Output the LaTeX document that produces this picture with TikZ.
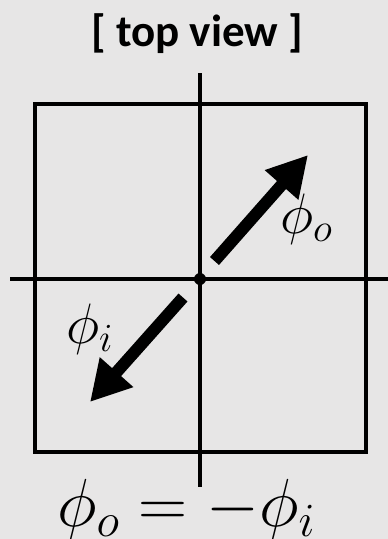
\RequirePackage{fix-cm}
\documentclass[tikz,border=0pt]{standalone}
\usepackage{fontspec}
\newfontfamily\titlefont{Carlito}
\usetikzlibrary{arrows.meta}
\definecolor{bg}{HTML}{E7E6E6}
\begin{document}
\begin{tikzpicture}[x=1pt,y=-1pt,
  axisline/.style={line width=4pt},
  framebox/.style={line width=4pt},
  bigarrow/.style={line width=12pt, -{Triangle[length=40pt,width=42pt]}},
  mathlabel/.style={inner sep=0pt, anchor=base west, font=\fontsize{57}{60}\selectfont},
  eqlabel/.style={inner sep=0pt, anchor=base west, font=\fontsize{68}{72}\selectfont},
  titlelabel/.style={inner sep=0pt, anchor=base, font=\titlefont\bfseries\fontsize{45}{50}\selectfont}]
\fill[bg] (0,0) rectangle (388,539);
\useasboundingbox (0,0) rectangle (388,539);
\node[titlelabel] (title) at (197,46) {[ top view ]};
\draw[framebox] (35,104) rectangle (365.5,452);
\coordinate (vtop) at (200,73);
\coordinate (vbot) at (200,487);
\coordinate (hl) at (10,279);
\coordinate (hr) at (390,279);
\draw[axisline] (vtop) -- (vbot);
\draw[axisline] (hl) -- (hr);
\fill (200,279) circle (6pt);
\coordinate (otail) at (214.5,261);
\coordinate (otip) at (308,155);
\coordinate (itail) at (183,297.5);
\coordinate (itip) at (90,402);
\draw[bigarrow] (otail) -- (otip);
\draw[bigarrow] (itail) -- (itip);
\node[mathlabel] (phio) at (280,233) {$\phi_o$};
\node[mathlabel] (phii) at (66,343) {$\phi_i$};
\node[eqlabel] (eq) at (57,526) {$\phi_o = -\phi_i$};
\end{tikzpicture}
\end{document}
